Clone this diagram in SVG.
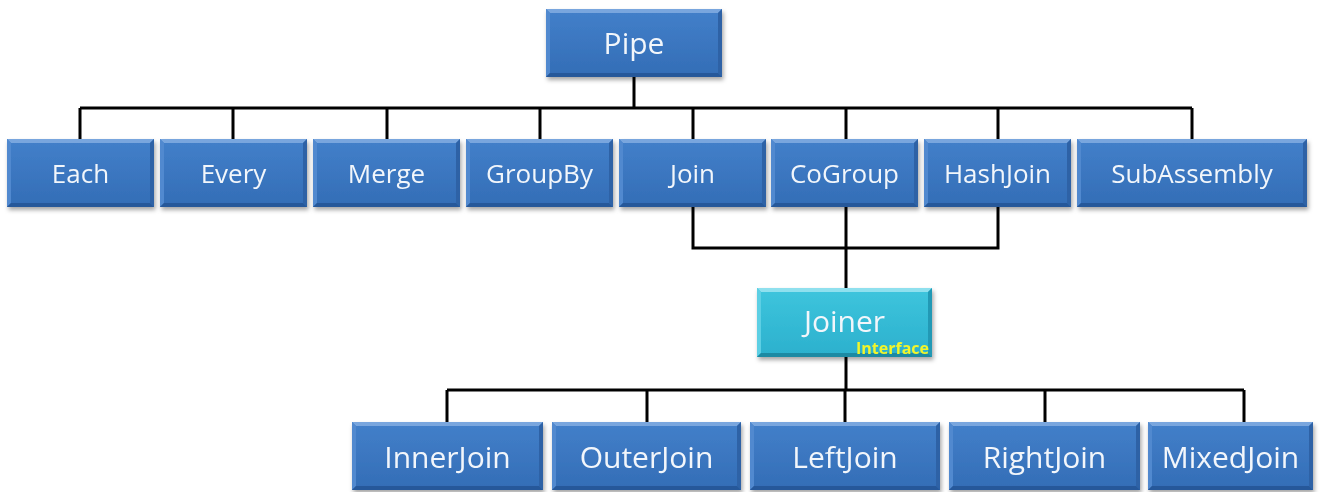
<svg xmlns="http://www.w3.org/2000/svg" width="1341" height="492" viewBox="0 0 1341 492">
  <defs>
    <linearGradient id="blueFace" x1="0" y1="0" x2="0" y2="1">
      <stop offset="0" stop-color="#4380ca"/>
      <stop offset="1" stop-color="#336db6"/>
    </linearGradient>
    <linearGradient id="cyanFace" x1="0" y1="0" x2="0" y2="1">
      <stop offset="0" stop-color="#3ec5dd"/>
      <stop offset="1" stop-color="#2bb0cd"/>
    </linearGradient>
    <filter id="shadow" x="-10%" y="-10%" width="125%" height="135%">
      <feDropShadow dx="1.5" dy="3" stdDeviation="2" flood-color="#000" flood-opacity="0.35"/>
    </filter>
  </defs>
  <style>
    .wire { fill: none; stroke: #000; stroke-width: 3; }
    .box { filter: url(#shadow); }
    .blue .face { fill: url(#blueFace); }
    .blue .bt { fill: #79a6de; }
    .blue .bl { fill: #5189cf; }
    .blue .br { fill: #2d62a6; }
    .blue .bb { fill: #28589a; }
    .cyan .face { fill: url(#cyanFace); }
    .cyan .bt { fill: #8fe0ee; }
    .cyan .bl { fill: #5dcfe4; }
    .cyan .br { fill: #2299b5; }
    .cyan .bb { fill: #1c8aa3; }
    .label { font-family: "Open Sans", "Liberation Sans", sans-serif; fill: #f2f6fb; text-anchor: middle; }
    .l1 { font-size: 26px; }
    .l2 { font-size: 30px; }
    .tag { font-family: "Open Sans", "Liberation Sans", sans-serif; font-weight: bold; font-size: 16px; fill: #f2f52a; text-anchor: end; }
  </style>

  <!-- connectors -->
  <g id="connectors">
    <path class="wire" d="M634 77 V108 M80 108 H1192 M80 108 V139 M233 108 V139 M387 108 V139 M540 108 V139 M693 108 V139 M846 108 V139 M998 108 V139 M1192 108 V139"/>
    <path class="wire" d="M693 207 V248 H998 V207 M846 207 V289"/>
    <path class="wire" d="M846 357 V390 M447 390 H1244 M447 390 V422 M647 390 V422 M845 390 V422 M1045 390 V422 M1244 390 V422"/>
  </g>

  <!-- Pipe -->
  <g id="node-pipe" class="box blue">
    <rect class="face" x="546" y="9" width="176" height="68"/>
    <polygon class="bt" points="546,9 722,9 718,13 550,13"/>
    <polygon class="bl" points="546,9 550,13 550,73 546,77"/>
    <polygon class="br" points="722,9 718,13 718,73 722,77"/>
    <polygon class="bb" points="546,77 722,77 718,73 550,73"/>
    <text class="label l2" x="634" y="54">Pipe</text>
  </g>

  <!-- second row -->
  <g id="node-each" class="box blue">
    <rect class="face" x="7" y="139" width="147" height="68"/>
    <polygon class="bt" points="7,139 154,139 150,143 11,143"/>
    <polygon class="bl" points="7,139 11,143 11,203 7,207"/>
    <polygon class="br" points="154,139 150,143 150,203 154,207"/>
    <polygon class="bb" points="7,207 154,207 150,203 11,203"/>
    <text class="label l1" x="80.5" y="183">Each</text>
  </g>
  <g id="node-every" class="box blue">
    <rect class="face" x="160" y="139" width="147" height="68"/>
    <polygon class="bt" points="160,139 307,139 303,143 164,143"/>
    <polygon class="bl" points="160,139 164,143 164,203 160,207"/>
    <polygon class="br" points="307,139 303,143 303,203 307,207"/>
    <polygon class="bb" points="160,207 307,207 303,203 164,203"/>
    <text class="label l1" x="233.5" y="183">Every</text>
  </g>
  <g id="node-merge" class="box blue">
    <rect class="face" x="313" y="139" width="147" height="68"/>
    <polygon class="bt" points="313,139 460,139 456,143 317,143"/>
    <polygon class="bl" points="313,139 317,143 317,203 313,207"/>
    <polygon class="br" points="460,139 456,143 456,203 460,207"/>
    <polygon class="bb" points="313,207 460,207 456,203 317,203"/>
    <text class="label l1" x="386.5" y="183">Merge</text>
  </g>
  <g id="node-groupby" class="box blue">
    <rect class="face" x="466" y="139" width="147" height="68"/>
    <polygon class="bt" points="466,139 613,139 609,143 470,143"/>
    <polygon class="bl" points="466,139 470,143 470,203 466,207"/>
    <polygon class="br" points="613,139 609,143 609,203 613,207"/>
    <polygon class="bb" points="466,207 613,207 609,203 470,203"/>
    <text class="label l1" x="539.5" y="183">GroupBy</text>
  </g>
  <g id="node-join" class="box blue">
    <rect class="face" x="619" y="139" width="147" height="68"/>
    <polygon class="bt" points="619,139 766,139 762,143 623,143"/>
    <polygon class="bl" points="619,139 623,143 623,203 619,207"/>
    <polygon class="br" points="766,139 762,143 762,203 766,207"/>
    <polygon class="bb" points="619,207 766,207 762,203 623,203"/>
    <text class="label l1" x="692.5" y="183">Join</text>
  </g>
  <g id="node-cogroup" class="box blue">
    <rect class="face" x="771" y="139" width="147" height="68"/>
    <polygon class="bt" points="771,139 918,139 914,143 775,143"/>
    <polygon class="bl" points="771,139 775,143 775,203 771,207"/>
    <polygon class="br" points="918,139 914,143 914,203 918,207"/>
    <polygon class="bb" points="771,207 918,207 914,203 775,203"/>
    <text class="label l1" x="844.5" y="183">CoGroup</text>
  </g>
  <g id="node-hashjoin" class="box blue">
    <rect class="face" x="924" y="139" width="147" height="68"/>
    <polygon class="bt" points="924,139 1071,139 1067,143 928,143"/>
    <polygon class="bl" points="924,139 928,143 928,203 924,207"/>
    <polygon class="br" points="1071,139 1067,143 1067,203 1071,207"/>
    <polygon class="bb" points="924,207 1071,207 1067,203 928,203"/>
    <text class="label l1" x="997.5" y="183">HashJoin</text>
  </g>
  <g id="node-subassembly" class="box blue">
    <rect class="face" x="1077" y="139" width="230" height="68"/>
    <polygon class="bt" points="1077,139 1307,139 1303,143 1081,143"/>
    <polygon class="bl" points="1077,139 1081,143 1081,203 1077,207"/>
    <polygon class="br" points="1307,139 1303,143 1303,203 1307,207"/>
    <polygon class="bb" points="1077,207 1307,207 1303,203 1081,203"/>
    <text class="label l1" x="1192" y="183">SubAssembly</text>
  </g>

  <!-- Joiner interface -->
  <g id="node-joiner" class="box cyan">
    <rect class="face" x="757" y="288" width="175" height="69"/>
    <polygon class="bt" points="757,288 932,288 928,292 761,292"/>
    <polygon class="bl" points="757,288 761,292 761,353 757,357"/>
    <polygon class="br" points="932,288 928,292 928,353 932,357"/>
    <polygon class="bb" points="757,357 932,357 928,353 761,353"/>
    <text class="label l2" x="844.5" y="332">Joiner</text>
    <text class="tag" x="929" y="354">Interface</text>
  </g>

  <!-- bottom row -->
  <g id="node-innerjoin" class="box blue">
    <rect class="face" x="352" y="422" width="191" height="68"/>
    <polygon class="bt" points="352,422 543,422 539,426 356,426"/>
    <polygon class="bl" points="352,422 356,426 356,486 352,490"/>
    <polygon class="br" points="543,422 539,426 539,486 543,490"/>
    <polygon class="bb" points="352,490 543,490 539,486 356,486"/>
    <text class="label l2" x="447.5" y="468">InnerJoin</text>
  </g>
  <g id="node-outerjoin" class="box blue">
    <rect class="face" x="552" y="422" width="189" height="68"/>
    <polygon class="bt" points="552,422 741,422 737,426 556,426"/>
    <polygon class="bl" points="552,422 556,426 556,486 552,490"/>
    <polygon class="br" points="741,422 737,426 737,486 741,490"/>
    <polygon class="bb" points="552,490 741,490 737,486 556,486"/>
    <text class="label l2" x="646.5" y="468">OuterJoin</text>
  </g>
  <g id="node-leftjoin" class="box blue">
    <rect class="face" x="750" y="422" width="190" height="68"/>
    <polygon class="bt" points="750,422 940,422 936,426 754,426"/>
    <polygon class="bl" points="750,422 754,426 754,486 750,490"/>
    <polygon class="br" points="940,422 936,426 936,486 940,490"/>
    <polygon class="bb" points="750,490 940,490 936,486 754,486"/>
    <text class="label l2" x="845" y="468">LeftJoin</text>
  </g>
  <g id="node-rightjoin" class="box blue">
    <rect class="face" x="949" y="422" width="191" height="68"/>
    <polygon class="bt" points="949,422 1140,422 1136,426 953,426"/>
    <polygon class="bl" points="949,422 953,426 953,486 949,490"/>
    <polygon class="br" points="1140,422 1136,426 1136,486 1140,490"/>
    <polygon class="bb" points="949,490 1140,490 1136,486 953,486"/>
    <text class="label l2" x="1044.5" y="468">RightJoin</text>
  </g>
  <g id="node-mixedjoin" class="box blue">
    <rect class="face" x="1148" y="422" width="165" height="68"/>
    <polygon class="bt" points="1148,422 1313,422 1309,426 1152,426"/>
    <polygon class="bl" points="1148,422 1152,426 1152,486 1148,490"/>
    <polygon class="br" points="1313,422 1309,426 1309,486 1313,490"/>
    <polygon class="bb" points="1148,490 1313,490 1309,486 1152,486"/>
    <text class="label l2" x="1230.5" y="468">MixedJoin</text>
  </g>
</svg>
